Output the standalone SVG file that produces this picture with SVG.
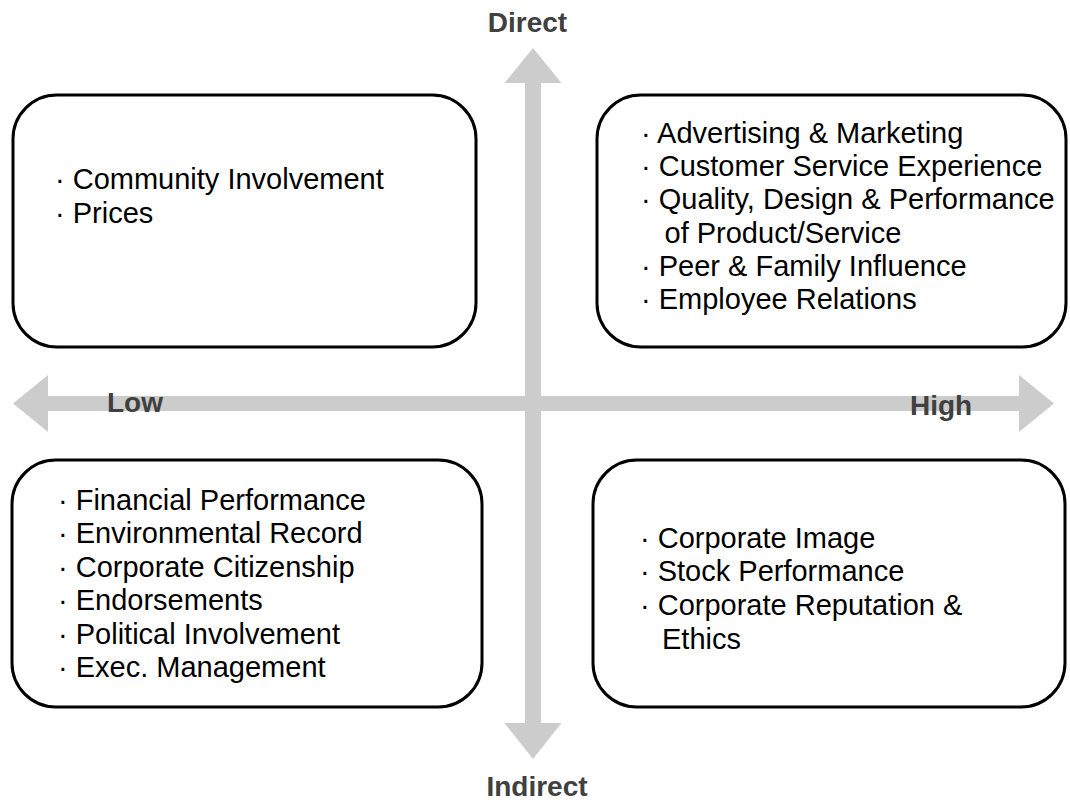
<svg xmlns="http://www.w3.org/2000/svg" width="1070" height="801" viewBox="0 0 1070 801">
<style>
.box{fill:#ffffff;stroke:#000000;stroke-width:3}
.axis{fill:#cccccc;stroke:none}
.item{font-family:"Liberation Sans",Arial,sans-serif;font-size:29px;fill:#000000}
.lbl{font-family:"Liberation Sans",Arial,sans-serif;font-size:28px;font-weight:bold;fill:#404040}
</style>
<rect width="1070" height="801" fill="#ffffff"/>
<g id="connectors">
<polygon class="axis" points="13,403.5 48,375 48,396 1019,396 1019,375 1054,403.5 1019,432 1019,411 48,411 48,432"/>
<polygon class="axis" points="533,48 561.5,83 541,83 541,723 561.5,723 533,759 504.5,723 525,723 525,83 504.5,83"/>
</g>
<g id="label-direct"><text class="lbl" x="527.5" y="32" text-anchor="middle">Direct</text></g>
<g id="label-indirect"><text class="lbl" x="537" y="796" text-anchor="middle">Indirect</text></g>
<g id="label-low"><text class="lbl" x="107" y="412">Low</text></g>
<g id="label-high"><text class="lbl" x="910" y="415">High</text></g>
<g id="box-top-left">
<rect class="box" x="13" y="95" width="463" height="252" rx="44" ry="44"/>
<text class="item" x="55" y="189">· Community Involvement</text>
<text class="item" x="55" y="223">· Prices</text>
</g>
<g id="box-top-right">
<rect class="box" x="597" y="95" width="469" height="252" rx="44" ry="44"/>
<text class="item" x="641" y="142.5">· Advertising &amp; Marketing</text>
<text class="item" x="641" y="176">· Customer Service Experience</text>
<text class="item" x="641" y="209">· Quality, Design &amp; Performance</text>
<text class="item" x="664.5" y="242.5">of Product/Service</text>
<text class="item" x="641" y="276">· Peer &amp; Family Influence</text>
<text class="item" x="641" y="309">· Employee Relations</text>
</g>
<g id="box-bottom-left">
<rect class="box" x="12" y="460" width="470" height="247" rx="44" ry="44"/>
<text class="item" x="58" y="509.5">· Financial Performance</text>
<text class="item" x="58" y="543">· Environmental Record</text>
<text class="item" x="58" y="576.5">· Corporate Citizenship</text>
<text class="item" x="58" y="610">· Endorsements</text>
<text class="item" x="58" y="643.5">· Political Involvement</text>
<text class="item" x="58" y="677">· Exec. Management</text>
</g>
<g id="box-bottom-right">
<rect class="box" x="593" y="460" width="472" height="247" rx="44" ry="44"/>
<text class="item" x="640" y="547.5">· Corporate Image</text>
<text class="item" x="640" y="581">· Stock Performance</text>
<text class="item" x="640" y="615">· Corporate Reputation &amp;</text>
<text class="item" x="662" y="649">Ethics</text>
</g>
</svg>
